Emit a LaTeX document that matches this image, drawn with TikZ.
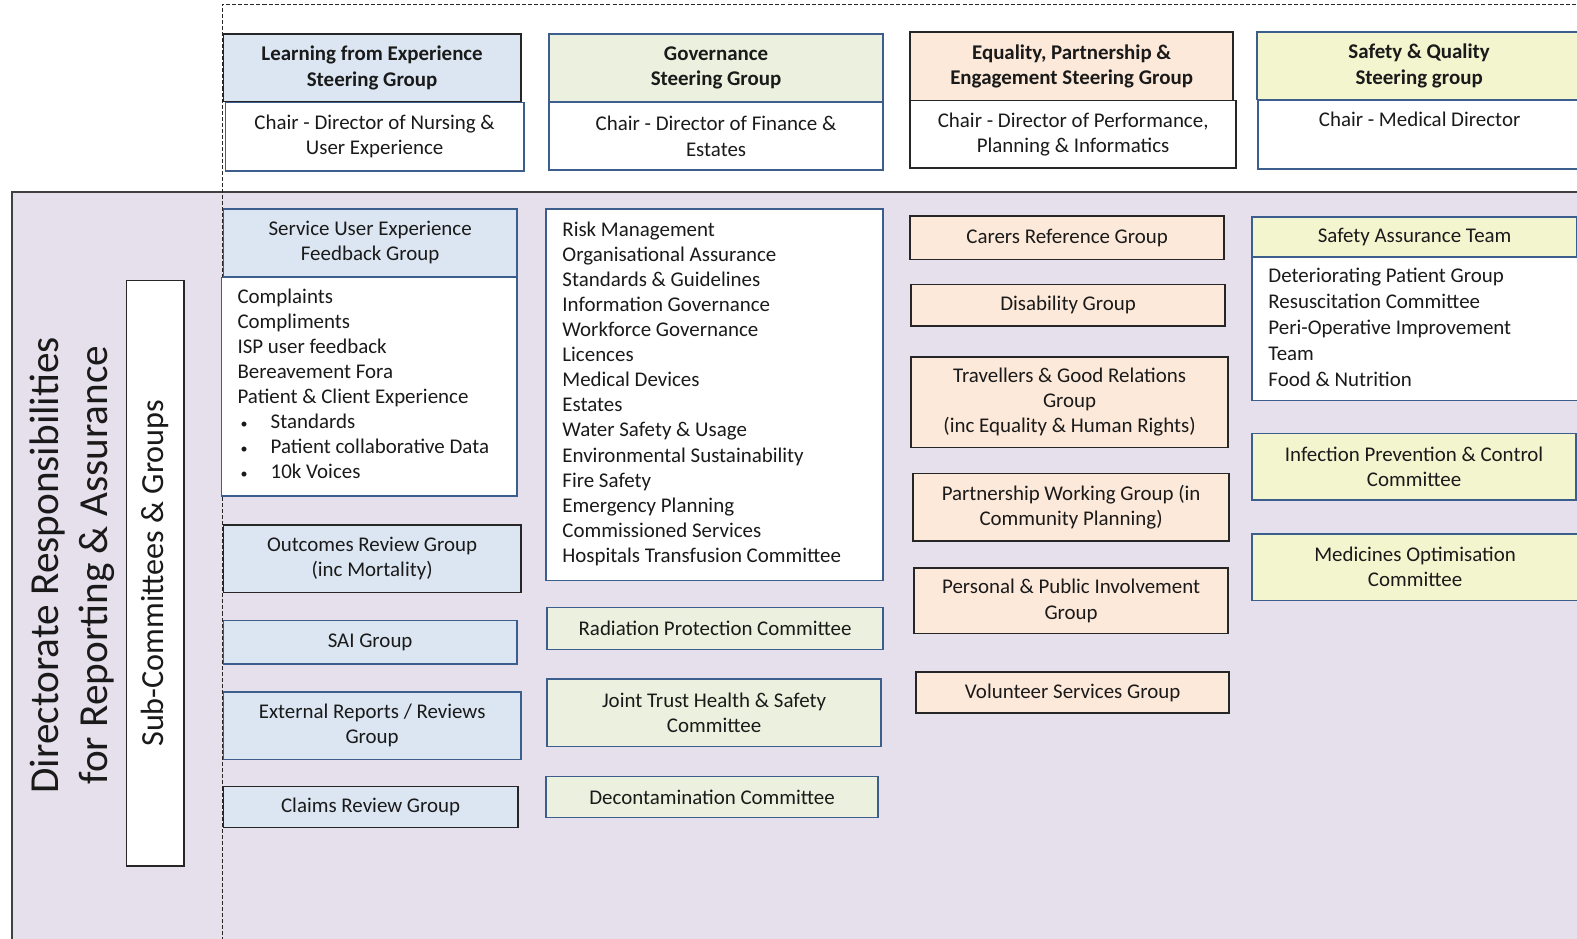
\documentclass[tikz,border=0pt]{standalone}
\usepackage{fontspec}
\usetikzlibrary{calc}
\setmainfont{Carlito}
\definecolor{fblue}{HTML}{DCE6F2}
\definecolor{fgreen}{HTML}{EBF1DE}
\definecolor{fpeach}{HTML}{FDE9D9}
\definecolor{fyellow}{HTML}{F3F5CF}
\definecolor{flav}{HTML}{E5E0EC}
\definecolor{bblue}{HTML}{3B5E8C}
\definecolor{bdark}{HTML}{262626}
\definecolor{txt}{HTML}{1A1A1A}
% box from (x1,y1) to (x2,y2), in pixel-like units
\newcommand\orgbox[7]{%
  \node[#2, minimum width={#5-#3}, minimum height={#6-#4}]
    (#1) at ({(#3+#5)/2},{(#4+#6)/2}) {#7};}
% small list bullet followed by the indented item
\newcommand\listbul{\hspace*{3pt}\makebox[30pt][l]{\fontsize{14}{14}\selectfont\textbullet}}
\begin{document}
\begin{tikzpicture}[x=1pt,y=-1pt,
  base/.style={rectangle, inner sep=0pt, align=center, text=txt,
    font=\fontsize{20.8}{25}\selectfont, line width=1.5pt},
  hdr/.style={font=\bfseries\fontsize{20.8}{25}\selectfont},
  blue/.style={base, fill=fblue, draw=bblue},
  blueK/.style={base, fill=fblue, draw=bdark},
  green/.style={base, fill=fgreen, draw=bblue},
  peach/.style={base, fill=fpeach, draw=bdark},
  yellow/.style={base, fill=fyellow, draw=bblue},
  whiteB/.style={base, fill=white, draw=bblue},
  whiteK/.style={base, fill=white, draw=bdark},
  listtxt/.style={inner sep=0pt, align=left, anchor=base west, text=txt,
    font=\fontsize{20.8}{24.9}\selectfont},
  guide/.style={draw=bdark, line width=0.9pt, dash pattern=on 4pt off 2pt}]
\useasboundingbox (0,0) rectangle (1568,933);

% lavender area for the directorate responsibilities
\draw[fill=flav, draw=black!75, line width=1.5pt] (12,191) rectangle (1600,960);

% dashed frame of the steering level
\coordinate (dtop) at (1600,4);
\coordinate (dbot) at (221,960);
\draw[guide] (dbot) |- (dtop);

% steering groups
\orgbox{lfe}{blueK,hdr}{222}{34}{518}{101}{Learning from Experience\\Steering Group}
\orgbox{lfec}{whiteB}{224}{102}{521}{170}{Chair - Director of Nursing \&\\User Experience}
\orgbox{gov}{green,hdr}{546}{34}{878}{101}{Governance\\Steering Group}
\orgbox{govc}{whiteB}{546}{102}{878}{169}{Chair - Director of Finance \&\\Estates}
\orgbox{eq}{peach,hdr}{905}{32}{1226}{100}{Equality, Partnership \&\\Engagement Steering Group}
\orgbox{eqc}{whiteK}{905}{100}{1229}{167}{Chair - Director of Performance,\\Planning \& Informatics}
\orgbox{sq}{yellow,hdr}{1250}{32}{1572}{99}{Safety \& Quality\\Steering group}
\orgbox{sqc}{whiteB}{1251}{100}{1572}{168}{}
\node[base, draw=none, anchor=north] (sqct) at ($(sqc.north)+(0,11)$) {Chair - Medical Director};

% left labels
\node[base, draw=none, rotate=90, font=\fontsize{41}{49}\selectfont]
  (dir) at (72,562) {Directorate Responsibilities\\for Reporting \& Assurance};
\orgbox{subc}{whiteK}{126}{279}{183}{861}{}
\node[base, draw=none, rotate=90, font=\fontsize{32}{35}\selectfont]
  (subt) at (subc.center) {Sub-Committees \& Groups};

% learning from experience column (list node anchored at its last baseline)
\orgbox{sue}{blue}{222}{208}{514}{275}{Service User Experience\\Feedback Group}
\orgbox{suel}{whiteB}{220}{276}{514}{493}{}
\node[listtxt] (suet) at (236,476) {Complaints\\Compliments\\ISP user feedback\\Bereavement Fora\\Patient \& Client Experience\\
  \listbul Standards\\
  \listbul Patient collaborative Data\\
  \listbul 10k Voices};
\orgbox{orc}{blueK}{222}{522}{518}{589}{Outcomes Review Group\\(inc Mortality)}
\orgbox{sai}{blue}{222}{617}{514}{660}{SAI Group}
\orgbox{ext}{blue}{222}{688}{518}{755}{External Reports / Reviews\\Group}
\orgbox{clm}{blueK}{222}{782}{515}{823}{Claims Review Group}

% governance column
\orgbox{govl}{whiteB}{543}{208}{878}{577}{}
\node[listtxt] (govt) at (559,559) {Risk Management\\Organisational Assurance\\Standards \& Guidelines\\Information Governance\\Workforce Governance\\Licences\\Medical Devices\\Estates\\Water Safety \& Usage\\Environmental Sustainability\\Fire Safety\\Emergency Planning\\Commissioned Services\\Hospitals Transfusion Committee};
\orgbox{rad}{green}{544}{604}{878}{646}{Radiation Protection Committee}
\orgbox{jt}{green}{544}{675}{876}{742}{Joint Trust Health \& Safety\\Committee}
\orgbox{dec}{green}{543}{772}{873}{813}{Decontamination Committee}

% equality column
\orgbox{car}{peach}{905}{215}{1217}{258}{Carers Reference Group}
\orgbox{dis}{peach}{906}{283}{1218}{324}{Disability Group}
\orgbox{trv}{peach}{906}{355}{1221}{445}{Travellers \& Good Relations\\Group\\(inc Equality \& Human Rights)}
\orgbox{pwg}{peach}{908}{471}{1222}{538}{Partnership Working Group (in\\Community Planning)}
\orgbox{ppi}{peach}{909}{565}{1221}{630}{Personal \& Public Involvement\\Group}
\orgbox{vol}{peach}{911}{668}{1222}{709}{Volunteer Services Group}

% safety and quality column
\orgbox{sat}{yellow}{1245}{216}{1568}{255}{Safety Assurance Team}
\orgbox{satl}{whiteB}{1245}{256}{1572}{398}{}
\node[listtxt, font=\fontsize{20.8}{25.75}\selectfont] (satt) at (1261,384) {Deteriorating Patient Group\\Resuscitation Committee\\Peri-Operative Improvement\\Team\\Food \& Nutrition};
\orgbox{ipc}{yellow}{1245}{431}{1567}{497}{Infection Prevention \& Control\\Committee}
\orgbox{mo}{yellow}{1245}{531}{1569}{597}{Medicines Optimisation\\Committee}
\end{tikzpicture}
\end{document}
